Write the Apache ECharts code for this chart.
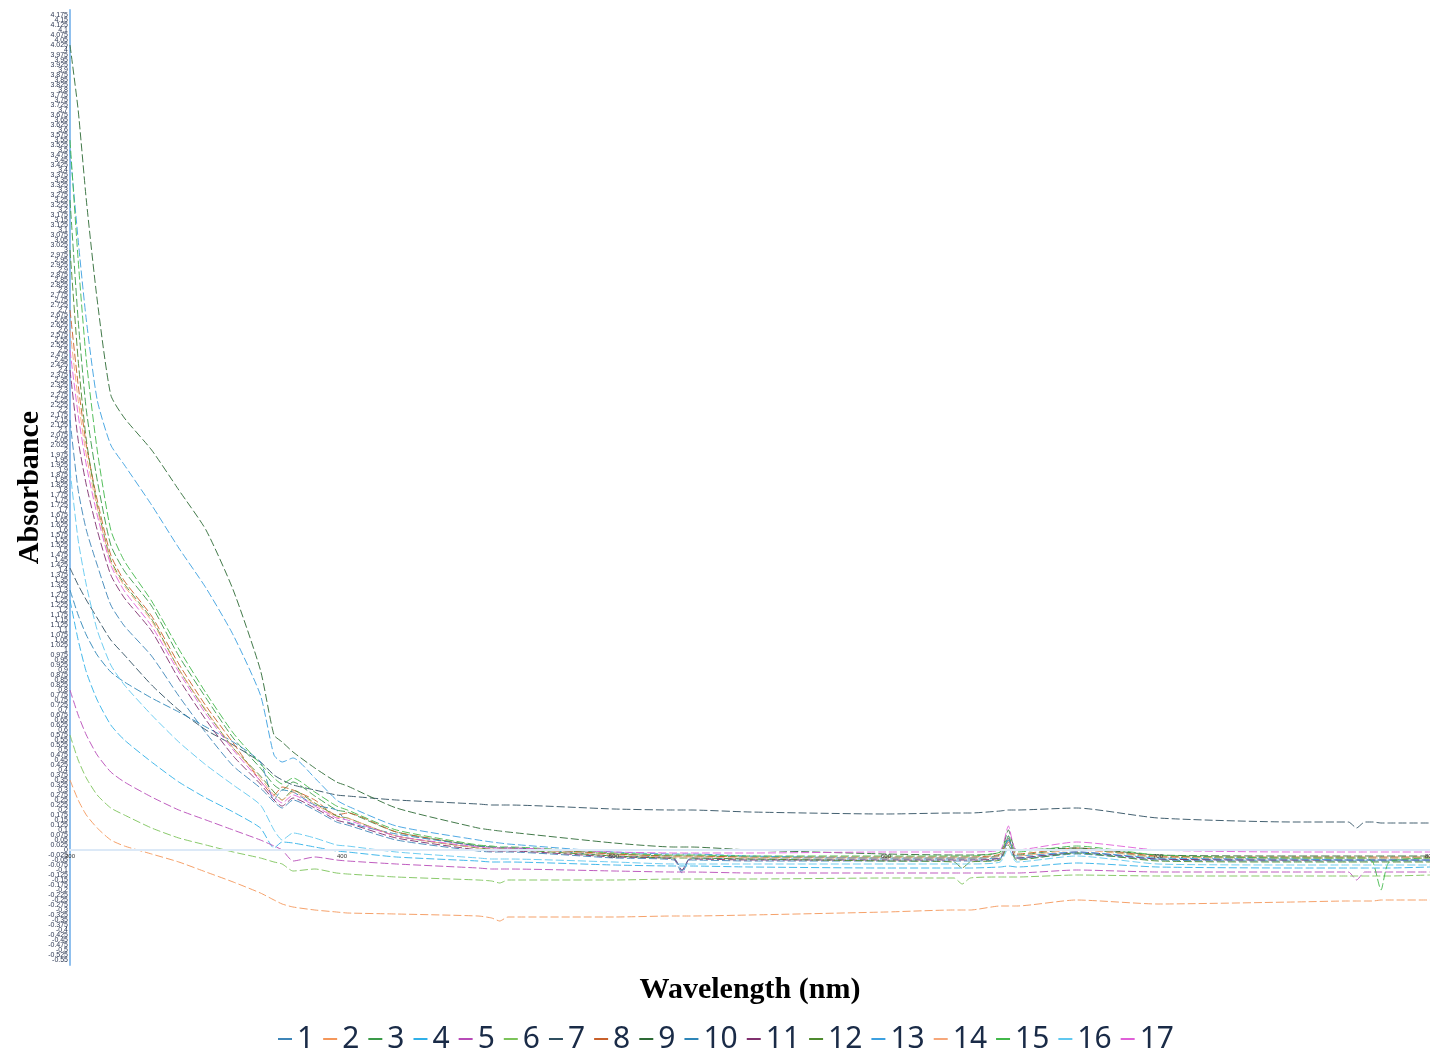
<!DOCTYPE html>
<html><head><meta charset="utf-8">
<script src="https://cdn.jsdelivr.net/npm/echarts@6/dist/echarts.min.js"></script>
<style>html,body{margin:0;padding:0;background:#fff}#c{width:1430px;height:1057px}</style>
</head><body><div id="c"></div>
<script>
const wavelengths = [300,303,306,310,315,320,330,340,350,360,370, 375,378,382,390,398,402,420, 450,455,458,461, 500,522,525,528,550, 600,625,628,631, 642,645,648,670, 700,750,770,773,776,779,782,785,800];
const seriesNames = ['1','2','3','4','5','6','7','8','9','10','11','12','13','14','15','16','17'];
const seriesColors = ['#3d85b8','#f4975a','#3a9a48','#30b0e8','#b84bb8','#7cc35a','#2f4f60','#c8602a','#2d6a35','#2e86b8','#80306e','#4e8a2e','#3ca0e0','#f6a77a','#42b84a','#60c8f0','#e060d8'];
const s1 = [2.15,1.80,1.60,1.425,1.225,1.12,0.97,0.77,0.585,0.42,0.31, 0.24,0.21,0.25,0.20,0.14,0.125,0.05, -0.005,-0.01,-0.01,-0.01, -0.04,-0.05,-0.115,-0.05,-0.055, -0.055,-0.055,-0.055,-0.055, -0.045,0.07,-0.045,-0.02, -0.05,-0.055,-0.055,-0.055,-0.055,-0.055,-0.055,-0.055,-0.055];
const s2 = [0.35,0.25,0.175,0.11,0.05,0.02,-0.02,-0.06,-0.11,-0.16,-0.215, -0.25,-0.27,-0.285,-0.30,-0.31,-0.315,-0.32, -0.33,-0.34,-0.355,-0.335, -0.335,-0.33,-0.33,-0.33,-0.325, -0.31,-0.30,-0.30,-0.30, -0.28,-0.28,-0.28,-0.25, -0.27,-0.26,-0.255,-0.255,-0.255,-0.255,-0.25,-0.25,-0.25];
const s3 = [3.25,2.65,2.20,1.85,1.525,1.395,1.22,0.97,0.76,0.56,0.41, 0.325,0.30,0.34,0.27,0.20,0.19,0.09, 0.02,0.015,0.01,0.01, -0.02,-0.03,-0.03,-0.03,-0.035, -0.04,-0.04,-0.04,-0.04, -0.025,0.05,-0.025,0.005, -0.035,-0.04,-0.04,-0.04,-0.04,-0.04,-0.04,-0.04,-0.04];
const s4 = [1.25,1.05,0.89,0.75,0.625,0.55,0.44,0.34,0.26,0.19,0.11, 0.01,0.04,0.035,0.015,-0.005,-0.01,-0.035, -0.055,-0.06,-0.06,-0.06, -0.075,-0.08,-0.08,-0.08,-0.085, -0.09,-0.09,-0.09,-0.09, -0.085,-0.08,-0.085,-0.065, -0.085,-0.09,-0.09,-0.09,-0.09,-0.09,-0.09,-0.09,-0.085];
const s5 = [0.80,0.675,0.575,0.475,0.39,0.34,0.265,0.20,0.15,0.10,0.05, 0.02,0,-0.055,-0.035,-0.05,-0.055,-0.07, -0.09,-0.095,-0.095,-0.095, -0.105,-0.11,-0.11,-0.11,-0.115, -0.115,-0.115,-0.115,-0.115, -0.115,-0.115,-0.115,-0.10, -0.11,-0.11,-0.11,-0.15,-0.11,-0.11,-0.11,-0.11,-0.11];
const s6 = [0.575,0.45,0.36,0.275,0.21,0.175,0.11,0.06,0.025,-0.01,-0.04, -0.06,-0.07,-0.105,-0.095,-0.115,-0.12,-0.135, -0.15,-0.155,-0.165,-0.15, -0.15,-0.145,-0.145,-0.145,-0.145, -0.14,-0.14,-0.17,-0.14, -0.135,-0.135,-0.135,-0.125, -0.13,-0.13,-0.13,-0.13,-0.13,-0.13,-0.13,-0.13,-0.125];
const s7 = [1.41,1.325,1.25,1.16,1.05,0.975,0.825,0.70,0.60,0.525,0.44, 0.375,0.35,0.325,0.30,0.275,0.27,0.25, 0.23,0.225,0.225,0.225, 0.205,0.20,0.20,0.20,0.19, 0.18,0.185,0.185,0.185, 0.195,0.20,0.20,0.21, 0.16,0.14,0.14,0.11,0.14,0.14,0.135,0.135,0.135];
const s8 = [2.70,2.325,2.025,1.75,1.475,1.345,1.17,0.93,0.72,0.535,0.345, 0.275,0.315,0.30,0.25,0.175,0.185,0.09, 0.02,0.015,0.01,0.01, -0.02,-0.03,-0.03,-0.03,-0.035, -0.035,-0.035,-0.035,-0.035, -0.02,0.06,-0.02,0.01, -0.03,-0.035,-0.035,-0.035,-0.035,-0.035,-0.035,-0.035,-0.035];
const s9 = [4.025,3.70,3.25,2.75,2.275,2.16,2.00,1.80,1.60,1.30,0.90, 0.575,0.54,0.49,0.41,0.34,0.32,0.21, 0.11,0.10,0.095,0.09, 0.035,0.015,0.015,0.015,0, -0.02,-0.025,-0.025,-0.025, -0.01,0.10,0,0.01, -0.025,-0.03,-0.03,-0.03,-0.03,-0.03,-0.03,-0.03,-0.03];
const s10 = [1.30,1.175,1.075,0.975,0.89,0.84,0.76,0.69,0.615,0.54,0.44, 0.25,0.30,0.29,0.225,0.20,0.14,0.08, 0.02,0.015,0.01,0.01, -0.03,-0.04,-0.105,-0.04,-0.045, -0.045,-0.045,-0.045,-0.045, -0.04,0.06,-0.04,-0.015, -0.045,-0.05,-0.05,-0.05,-0.05,-0.05,-0.05,-0.05,-0.05];
const s11 = [2.40,2.05,1.825,1.60,1.375,1.26,1.095,0.855,0.65,0.47,0.33, 0.25,0.22,0.26,0.21,0.15,0.135,0.06, 0,-0.005,-0.005,-0.005, -0.035,-0.045,-0.10,-0.045,-0.05, -0.05,-0.05,-0.05,-0.05, -0.04,0.04,-0.04,-0.01, -0.045,-0.05,-0.05,-0.05,-0.05,-0.05,-0.05,-0.05,-0.05];
const s12 = [3.00,2.45,2.05,1.725,1.45,1.33,1.155,0.905,0.695,0.51,0.37, 0.29,0.25,0.30,0.235,0.17,0.16,0.07, 0.01,0.005,0,0, -0.03,-0.04,-0.04,-0.04,-0.045, -0.055,-0.06,-0.09,-0.06, -0.05,0.025,-0.05,-0.015, -0.055,-0.06,-0.06,-0.06,-0.06,-0.06,-0.06,-0.06,-0.06];
const s13 = [3.50,3.05,2.65,2.25,2.025,1.925,1.725,1.51,1.31,1.075,0.775, 0.475,0.44,0.46,0.36,0.25,0.22,0.12, 0.05,0.04,0.035,0.03, -0.01,-0.02,-0.02,-0.02,-0.03, -0.04,-0.04,-0.04,-0.04, -0.03,0.05,-0.03,-0.01, -0.04,-0.045,-0.05,-0.05,-0.05,-0.05,-0.05,-0.05,-0.05];
const s14 = [2.60,2.25,1.975,1.71,1.44,1.32,1.145,0.905,0.70,0.51,0.36, 0.275,0.25,0.29,0.23,0.165,0.16,0.07, 0.01,0.005,0.005,0.005, -0.025,-0.035,-0.035,-0.035,-0.04, -0.04,-0.04,-0.04,-0.04, -0.03,0.04,-0.03,0, -0.035,-0.04,-0.04,-0.04,-0.04,-0.04,-0.04,-0.04,-0.04];
const s15 = [3.55,2.95,2.45,2.00,1.60,1.445,1.245,1.005,0.785,0.585,0.43, 0.36,0.33,0.36,0.29,0.22,0.20,0.10, 0.025,0.02,0.015,0.015, -0.015,-0.025,-0.025,-0.025,-0.03, -0.03,-0.03,-0.03,-0.03, -0.01,0.07,-0.01,0.02, -0.025,-0.04,-0.04,-0.04,-0.04,-0.06,-0.20,-0.06,-0.04];
const s16 = [1.90,1.55,1.325,1.10,0.925,0.825,0.675,0.54,0.425,0.325,0.225, 0.10,0.05,0.085,0.06,0.025,0.02,-0.01, -0.04,-0.045,-0.045,-0.045, -0.06,-0.07,-0.07,-0.07,-0.07, -0.07,-0.07,-0.07,-0.07, -0.06,0.01,-0.06,-0.03, -0.07,-0.075,-0.075,-0.075,-0.075,-0.075,-0.075,-0.075,-0.075];
const s17 = [2.50,2.175,1.925,1.675,1.425,1.295,1.12,0.89,0.68,0.50,0.345, 0.265,0.235,0.275,0.22,0.16,0.15,0.07, 0.015,0.01,0.01,0.01, -0.01,-0.015,-0.015,-0.015,-0.015, -0.01,-0.01,-0.01,-0.01, 0,0.12,0,0.04, 0,-0.01,-0.01,-0.01,-0.01,-0.01,-0.01,-0.01,-0.01];
const allValues = [s1,s2,s3,s4,s5,s6,s7,s8,s9,s10,s11,s12,s13,s14,s15,s16,s17];

const chart = echarts.init(document.getElementById('c'), null, {renderer:'canvas'});
const series = allValues.map((vals, k) => ({
  name: seriesNames[k],
  type: 'line',
  symbol: 'none',
  smooth: 0.2,
  data: wavelengths.map((w, i) => [w, vals[i]]),
  lineStyle: {color: seriesColors[k], width: 1, type: [8, 3], opacity: 0.9},
  itemStyle: {color: seriesColors[k]},
  z: 2
}));
chart.setOption({
  animation: false,
  color: seriesColors,
  grid: {left: 70, right: 0, top: 10, bottom: 92, containLabel: false, outerBoundsMode: 'none'},
  legend: {
    show: true,
    top: 1019, left: 273, itemWidth: 14, itemHeight: 2, itemGap: 9,
    icon: 'rect',
    textStyle: {fontSize: 30, color: '#1a2b47', fontFamily: 'Noto Sans'},
    data: seriesNames
  },
  xAxis: {
    type: 'value', min: 300, max: 800, interval: 100,
    offset: -115, z: 10,
    name: 'Wavelength (nm)', nameLocation: 'middle', nameGap: 125, nameMoveOverlap: false,
    nameTextStyle: {fontFamily: 'Liberation Serif', fontWeight: 'bold', fontSize: 30, color: '#000'},
    axisLine: {onZero: false, lineStyle: {color: '#dce9f7', width: 2}},
    axisTick: {show: false},
    axisLabel: {fontSize: 6, color: '#333', margin: 3},
    splitLine: {show: false}
  },
  yAxis: {
    type: 'value', min: -0.575, max: 4.2, interval: 0.025,
    name: 'Absorbance', nameLocation: 'middle', nameGap: 25, nameMoveOverlap: false,
    nameTextStyle: {fontFamily: 'Liberation Serif', fontWeight: 'bold', fontSize: 30, color: '#000'},
    axisLine: {show: true, onZero: false, lineStyle: {color: '#90c0ee', width: 2}},
    axisTick: {show: false},
    axisLabel: {fontSize: 7, color: '#2a3550', margin: 2},
    splitLine: {show: false}
  },
  series: series
});
</script>
</body></html>
